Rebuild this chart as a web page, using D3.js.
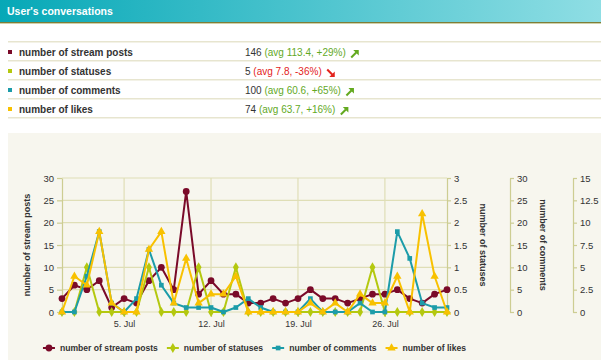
<!DOCTYPE html>
<html><head><meta charset="utf-8">
<script src="https://cdn.jsdelivr.net/npm/d3@7"></script>
<style>
body{margin:0;background:#fff;}
svg{font-family:"Liberation Sans",Arial,sans-serif;display:block;}
</style></head><body>
<svg id="c" width="601" height="360"></svg>
<script>
// ---------- data ----------
const title = "User's conversations";
const seriesNames = ["number of stream posts", "number of statuses", "number of comments", "number of likes"];
const seriesColors = ["#7a0a29", "#b4c80f", "#1c9ca9", "#f8c100"];
const totals = [146, 5, 100, 74];
const averages = ["113.4", "7.8", "60.6", "63.7"];
const changes = ["+29%", "-36%", "+65%", "+16%"];
const dates = ["2010-06-30","2010-07-01","2010-07-02","2010-07-03","2010-07-04","2010-07-05","2010-07-06","2010-07-07",
  "2010-07-08","2010-07-09","2010-07-10","2010-07-11","2010-07-12","2010-07-13","2010-07-14","2010-07-15",
  "2010-07-16","2010-07-17","2010-07-18","2010-07-19","2010-07-20","2010-07-21","2010-07-22","2010-07-23",
  "2010-07-24","2010-07-25","2010-07-26","2010-07-27","2010-07-28","2010-07-29","2010-07-30","2010-07-31"];
const streamPosts = [3,6,5,7,1,3,2,7,10,5,27,4,7,4,4,2,2,3,2,3,5,3,3,2,3,4,4,5,3,2,4,5];
const statuses    = [0,0,1,0,0,0,0,1,0,0,0,1,0,0,1,0,0,0,0,0,0,0,0,0,0,1,0,0,0,0,0,0];
const comments    = [0,0,8,18,2,0,3,14,6,2,1,1,1,0,1,3,1,0,0,0,3,0,0,0,2,0,0,18,12,2,1,1];
const likes       = [0,4,3,9,1,0,0,7,9,1,6,1,2,2,4,0,0,0,0,0,1,0,1,0,2,1,1,4,0,11,4,0];
const postTicks    = [0,5,10,15,20,25,30];
const statusTicks  = [0,0.5,1,1.5,2,2.5,3];
const commentTicks = [0,5,10,15,20,25,30];
const likeTicks    = [0,2.5,5,7.5,10,12.5,15];
const xTickDates = ["2010-07-05","2010-07-12","2010-07-19","2010-07-26"];

// ---------- setup ----------
const svg = d3.select("#c");
const parse = d3.timeParse("%Y-%m-%d");
const dts = dates.map(parse);
const PL = 62, PR = 447, PT = 178, PB = 312;
const GRID = "#dfdeb6", AXIS = "#cdcd92", TXT = "#333";

// header
const defs = svg.append("defs");
const g = defs.append("linearGradient").attr("id","hg").attr("x1","0").attr("x2","1");
g.append("stop").attr("offset","0").attr("stop-color","#06a8b7");
g.append("stop").attr("offset","1").attr("stop-color","#8fdee4");
svg.append("rect").attr("x",0).attr("y",0).attr("width",601).attr("height",22).attr("fill","url(#hg)");
svg.append("rect").attr("x",0).attr("y",22).attr("width",601).attr("height",1).attr("fill","#7f7d38");
svg.append("rect").attr("x",0).attr("y",23).attr("width",601).attr("height",1).attr("fill","#cfd0a8");
svg.append("text").attr("x",7).attr("y",14.5).attr("fill","#fff").attr("font-weight","bold")
  .attr("font-size","10.5px").text(title);

// summary table
const rowY = [42,61,80,99,118];
rowY.forEach(y => svg.append("rect").attr("x",8).attr("y",y-1).attr("width",593).attr("height",1.5).attr("fill","#e7e5cf"));
seriesNames.forEach((name,i) => {
  const cy = rowY[i] + 10;
  svg.append("rect").attr("x",8).attr("y",cy-2).attr("width",4).attr("height",4).attr("fill",seriesColors[i]);
  svg.append("text").attr("x",19).attr("y",cy).attr("dy","0.35em").attr("font-size","10px")
    .attr("font-weight","bold").attr("fill",TXT).text(name);
  const up = !changes[i].startsWith("-");
  const col = up ? "#63a91f" : "#e3231b";
  const t = svg.append("text").attr("x",245).attr("y",cy).attr("dy","0.35em").attr("font-size","10px");
  t.append("tspan").attr("fill",TXT).text(totals[i] + " ");
  t.append("tspan").attr("fill",col).text("(avg " + averages[i] + ", " + changes[i] + ")");
  const w = t.node().getComputedTextLength();
  const ax = 245 + w + 5, ay = cy - 2;
  const a = svg.append("g").attr("transform", `translate(${ax},${ay})`);
  if (up) {
    a.append("path").attr("d","M0.5,7.5 L5.5,2.5").attr("stroke",col).attr("stroke-width",2);
    a.append("path").attr("d","M2.5,0 L8,0 L8,5.5 Z").attr("fill",col);
  } else {
    a.append("path").attr("d","M0.5,0.5 L5.5,5.5").attr("stroke",col).attr("stroke-width",2);
    a.append("path").attr("d","M8,2.5 L8,8 L2.5,8 Z").attr("fill",col);
  }
});

// chart background
svg.append("rect").attr("x",8).attr("y",133).attr("width",593).attr("height",227).attr("fill","#f7f6ee");

// scales
const x = d3.scaleTime().domain([dts[0], dts[dts.length-1]]).range([PL, PR]);
const yP = d3.scaleLinear().domain([0,30]).range([PB, PT]);
const yS = d3.scaleLinear().domain([0,3]).range([PB, PT]);
const yC = d3.scaleLinear().domain([0,30]).range([PB, PT]);
const yL = d3.scaleLinear().domain([0,15]).range([PB, PT]);

// grid
const grid = svg.append("g");
postTicks.forEach(v => grid.append("line").attr("x1",PL).attr("x2",PR).attr("y1",yP(v)).attr("y2",yP(v))
  .attr("stroke",GRID).attr("stroke-width",1.2));
xTickDates.map(parse).forEach(d => grid.append("line").attr("x1",x(d)).attr("x2",x(d)).attr("y1",PT).attr("y2",PB)
  .attr("stroke",GRID).attr("stroke-width",1.2));

function styleAxis(sel, fs){
  sel.selectAll("path").attr("stroke",AXIS).attr("stroke-width",1.2);
  sel.selectAll("line").attr("stroke",AXIS).attr("stroke-width",1.2);
  sel.selectAll("text").attr("fill",TXT).attr("font-size",fs).attr("font-family","Liberation Sans, Arial, sans-serif");
}
// left axis
const gl = svg.append("g").attr("transform",`translate(${PL},0)`)
  .call(d3.axisLeft(yP).tickValues(postTicks).tickSize(5).tickSizeOuter(0).tickPadding(3).tickFormat(d3.format("d")));
styleAxis(gl,"9.5px");
// x axis
const gx = svg.append("g").attr("transform",`translate(0,${PB})`)
  .call(d3.axisBottom(x).tickValues(xTickDates.map(parse)).tickSize(5).tickSizeOuter(0).tickPadding(4)
  .tickFormat(d3.timeFormat("%-d. %b")));
gx.select("path").remove();
styleAxis(gx,"9px");
// right axes
const fmt = d => String(d);
const gs = svg.append("g").attr("transform",`translate(${PR},0)`)
  .call(d3.axisRight(yS).tickValues(statusTicks).tickSize(4).tickSizeOuter(0).tickPadding(3).tickFormat(fmt));
styleAxis(gs,"9.5px");
const gc = svg.append("g").attr("transform",`translate(510,0)`)
  .call(d3.axisRight(yC).tickValues(commentTicks).tickSize(4).tickSizeOuter(0).tickPadding(3).tickFormat(fmt));
styleAxis(gc,"9.5px");
const gk = svg.append("g").attr("transform",`translate(573,0)`)
  .call(d3.axisRight(yL).tickValues(likeTicks).tickSize(4).tickSizeOuter(0).tickPadding(3).tickFormat(fmt));
styleAxis(gk,"9.5px");

// axis titles
function axTitle(tx, rot, txt){
  svg.append("text").attr("transform",`translate(${tx},${(PT+PB)/2}) rotate(${rot})`)
    .attr("text-anchor","middle").attr("dy","0.35em").attr("font-size","9px").attr("font-weight","bold")
    .attr("fill",TXT).text(txt);
}
axTitle(27,-90,"number of stream posts");
axTitle(483,90,"number of statuses");
axTitle(543,90,"number of comments");

// series
const series = [
  {vals: streamPosts, y: yP, sym: d3.symbolCircle, size: 36},
  {vals: statuses, y: yS, sym: d3.symbolDiamond, size: 30},
  {vals: comments, y: yC, sym: d3.symbolSquare, size: 22},
  {vals: likes, y: yL, sym: d3.symbolTriangle, size: 30}
];
series.forEach((s,i) => {
  const line = d3.line().x((d,j) => x(dts[j])).y(d => s.y(d));
  svg.append("path").datum(s.vals).attr("d",line).attr("fill","none")
    .attr("stroke",seriesColors[i]).attr("stroke-width",2).attr("stroke-linejoin","round");
  svg.append("g").selectAll("path").data(s.vals).join("path")
    .attr("transform",(d,j) => `translate(${x(dts[j])},${s.y(d)})`)
    .attr("d", d3.symbol().type(s.sym).size(s.size)).attr("fill",seriesColors[i]);
});

// legend
const lg = svg.append("g");
const legY = 348;
let cx = 0;
const items = [];
seriesNames.forEach((name,i) => {
  const it = lg.append("g").attr("transform",`translate(${cx},0)`);
  it.append("line").attr("x1",0).attr("x2",12).attr("y1",legY).attr("y2",legY)
    .attr("stroke",seriesColors[i]).attr("stroke-width",2);
  it.append("path").attr("transform",`translate(6,${legY})`)
    .attr("d",d3.symbol().type(series[i].sym).size(series[i].size)).attr("fill",seriesColors[i]);
  const t = it.append("text").attr("x",17).attr("y",legY).attr("dy","0.35em").attr("font-size","8.6px")
    .attr("font-weight","bold").attr("fill",TXT).text(name);
  cx += 17 + t.node().getComputedTextLength() + 9;
});
const total = cx - 9;
lg.attr("transform",`translate(${(PL+PR)/2 - total/2},0)`);
</script>
</body></html>
